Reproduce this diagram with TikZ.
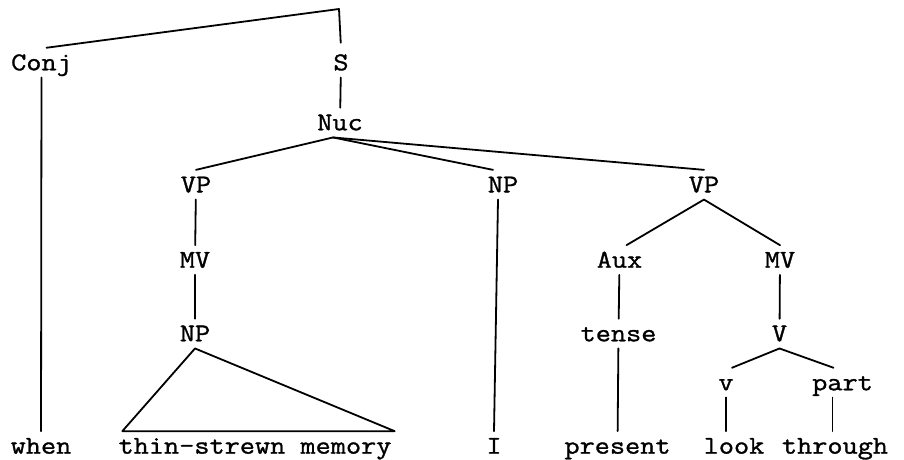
\documentclass[tikz,border=0pt]{standalone}
\usepackage{fontspec}
\newfontfamily\twfont{Latin Modern Mono}[FakeStretch=1.15,FakeBold=1.2]
\begin{document}
\begin{tikzpicture}[x=1pt,y=-1pt,
  lbl/.style={font=\twfont\fontsize{25.6pt}{30pt}\selectfont, text height=15.3pt, text depth=0pt, inner xsep=1pt, inner ysep=7pt},
  edge/.style={line width=1.8pt, line cap=round, line join=round}]
\useasboundingbox (0,0) rectangle (904,459);
% nodes
\coordinate (root) at (339,9);
\node[lbl] (Conj) at (41.5,62.6) {Conj};
\node[lbl] (S) at (341,62.6) {S};
\node[lbl] (Nuc) at (340,122.6) {Nuc};
\node[lbl] (VPa) at (196,184.7) {VP};
\node[lbl] (NPa) at (503,184.7) {NP};
\node[lbl] (VPb) at (704,184.7) {VP};
\node[lbl] (MVa) at (195,260) {MV};
\node[lbl] (Aux) at (619.5,260) {Aux};
\node[lbl] (MVb) at (780,260) {MV};
\node[lbl] (NPb) at (195,333.6) {NP};
\node[lbl] (tense) at (618.5,333.6) {tense};
\node[lbl] (V) at (779.5,333.6) {V};
\node[lbl] (v) at (726,382.6) {v};
\node[lbl] (part) at (842.5,382.6) {part};
\node[lbl] (when) at (41,446) {when};
\node[lbl] (mem) at (255,446) {thin-strewn memory};
\node[lbl] (I) at (494,446) {I};
\node[lbl] (present) at (617.5,446) {present};
\node[lbl] (look) at (734,446) {look};
\node[lbl] (through) at (835,446) {through};
% edges
\draw[edge] (root) -- ([xshift=5pt]Conj.north);
\draw[edge, shorten >=5pt] (root) -- (S.north);
\draw[edge] (S) -- (Nuc);
\draw[edge] ([xshift=-7pt]Nuc.south) -- (VPa.north);
\draw[edge] ([xshift=-7pt]Nuc.south) -- ([xshift=-10pt]NPa.north);
\draw[edge] ([xshift=-7pt]Nuc.south) -- (VPb.north);
\draw[edge] (VPa) -- (MVa);
\draw[edge] (MVa) -- (NPb);
\draw[edge] (NPb.south) -- ([xshift=5pt]mem.north west) -- ([xshift=2pt]mem.north east) -- cycle;
\draw[edge] (Conj) -- (when);
\draw[edge] ([xshift=-5pt]NPa.south) -- (I.north);
\draw[edge] (VPb.south) -- ([xshift=7pt]Aux.north);
\draw[edge] (VPb.south) -- (MVb.north);
\draw[edge] (Aux) -- (tense);
\draw[edge] (tense) -- (present);
\draw[edge] (MVb) -- (V);
\draw[edge] (V.south) -- ([xshift=6pt]v.north);
\draw[edge] (V.south) -- ([xshift=-9pt]part.north);
\draw[edge] (v.south) -- (v.south |- look.north);
\draw[edge] ([xshift=-10pt]part.south) -- ([xshift=-10pt]part.south |- through.north);
\end{tikzpicture}
\end{document}
